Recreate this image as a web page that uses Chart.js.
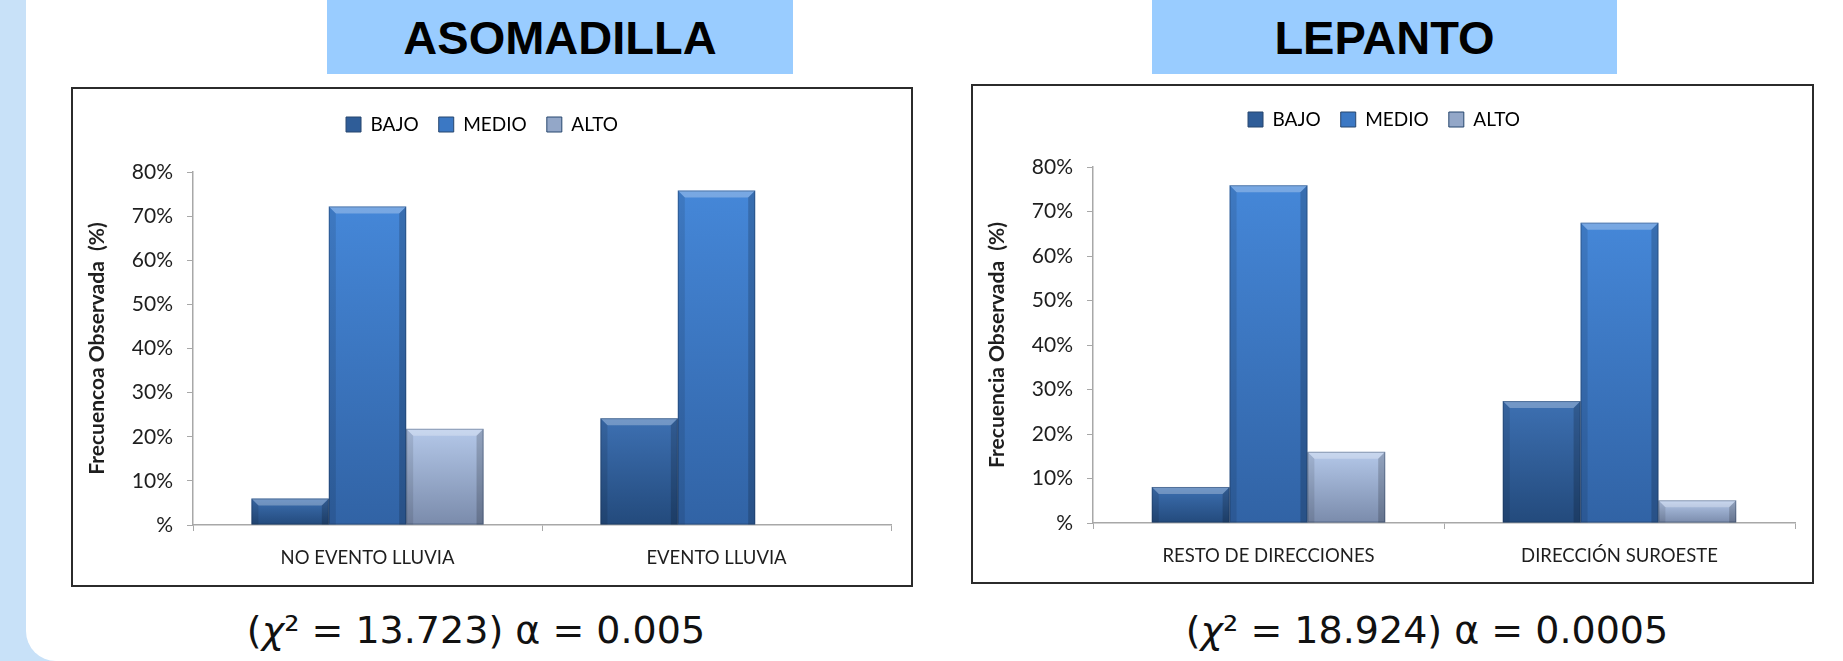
<!DOCTYPE html>
<html>
<head>
<meta charset="utf-8">
<script src="https://cdn.jsdelivr.net/npm/chart.js@4"></script>
<style>
  html, body { margin: 0; padding: 0; }
  body { width: 1843px; height: 661px; background: #c8e1f8; position: relative; overflow: hidden; }
  #panel { position: absolute; left: 26px; top: -40px; width: 1900px; height: 701px; background: #fff; border-bottom-left-radius: 30px; }
  .title { position: absolute; top: 0; height: 74px; background: #99ccff; font: bold 47px "Liberation Sans", Arial, sans-serif; color: #000; text-align: center; line-height: 76px; }
  .frame { position: absolute; border: 2px solid #2b2b2b; background: #fff; }
  .stat { position: absolute; width: 640px; text-align: center; font: 38px "DejaVu Sans", sans-serif; color: #111; }
  .stat i { font-style: italic; }
</style>
</head>
<body>
<div id="panel"></div>
<div class="title" style="left:327px;width:466px;">ASOMADILLA</div>
<div class="title" style="left:1152px;width:465px;">LEPANTO</div>

<div class="frame" style="left:71px;top:87px;width:838px;height:496px;"><canvas id="chartA"></canvas></div>
<div class="frame" style="left:971px;top:84px;width:839px;height:496px;"><canvas id="chartB"></canvas></div>

<div class="stat" style="left:156px;top:608px;">(<i>χ</i>² = 13.723) α = 0.005</div>
<div class="stat" style="left:1107px;top:608px;">(<i>χ</i>² = 18.924) α = 0.0005</div>

<script>
// series names
const levels = ['BAJO', 'MEDIO', 'ALTO'];

// ASOMADILLA (%)
const asomadillaCategories = ['NO EVENTO LLUVIA', 'EVENTO LLUVIA'];
const asomadillaBajo = [6.0, 24.2];
const asomadillaMedio = [72.2, 75.8];
const asomadillaAlto = [21.8, 0];

// LEPANTO (%)
const lepantoCategories = ['RESTO DE DIRECCIONES', 'DIRECCIÓN SUROESTE'];
const lepantoBajo = [8.1, 27.4];
const lepantoMedio = [75.9, 67.5];
const lepantoAlto = [16.0, 5.1];

// y axis
const yMin = 0;
const yMax = 80;
const yStep = 10;

// gradient colours per level: [top, bottom, legend]
const levelColors = [
    ['#3d70b2', '#234a7c', '#2f5d98'],
    ['#4587d8', '#3163a5', '#3b78c4'],
    ['#b4c8e9', '#7a8bab', '#93a7c8']
];

const textColor = '#1e1e1e';
const axisColor = '#a8a8a8';
const fontFamily = 'Lato, "Open Sans", sans-serif';

function barFill(top, bottom) {
    return function (ctx) {
        const chart = ctx.chart;
        const y = chart.scales.y;
        if (!y || ctx.raw === undefined) return top;
        const y0 = y.getPixelForValue(0);
        const y1 = y.getPixelForValue(ctx.raw);
        if (!isFinite(y0) || !isFinite(y1) || y0 === y1) return top;
        const g = chart.ctx.createLinearGradient(0, y1, 0, y0);
        g.addColorStop(0, top);
        g.addColorStop(1, bottom);
        return g;
    };
}

// excel-like bevel on top of each bar
const bevelPlugin = {
    id: 'bevel',
    afterDatasetsDraw(chart) {
        const ctx = chart.ctx;
        chart.data.datasets.forEach((ds, i) => {
            chart.getDatasetMeta(i).data.forEach(el => {
                const h = el.base - el.y;
                if (h < 1) return;
                const x0 = el.x - el.width / 2, x1 = el.x + el.width / 2;
                const b = Math.min(7, h / 2);
                ctx.save();
                ctx.fillStyle = 'rgba(255,255,255,0.28)';
                ctx.beginPath();
                ctx.moveTo(x0, el.y); ctx.lineTo(x1, el.y);
                ctx.lineTo(x1 - b, el.y + b); ctx.lineTo(x0 + b, el.y + b);
                ctx.closePath(); ctx.fill();
                ctx.fillStyle = 'rgba(0,0,0,0.10)';
                ctx.beginPath();
                ctx.moveTo(x0, el.y); ctx.lineTo(x0 + b, el.y + b);
                ctx.lineTo(x0 + b, el.base); ctx.lineTo(x0, el.base);
                ctx.closePath(); ctx.fill();
                ctx.fillStyle = 'rgba(0,0,0,0.18)';
                ctx.beginPath();
                ctx.moveTo(x1, el.y); ctx.lineTo(x1 - b, el.y + b);
                ctx.lineTo(x1 - b, el.base); ctx.lineTo(x1, el.base);
                ctx.closePath(); ctx.fill();
                ctx.strokeStyle = 'rgba(20,40,70,0.35)';
                ctx.lineWidth = 1;
                ctx.strokeRect(x0 + 0.5, el.y + 0.5, el.width - 1, h - 1);
                ctx.restore();
            });
        });
    }
};

// extra gap under the legend
const legendGapPlugin = {
    id: 'legendGap',
    beforeInit(chart) {
        const fit = chart.legend.fit;
        chart.legend.fit = function () {
            fit.bind(chart.legend)();
            this.height += chart.options.plugins.legendGap.gap;
        };
    }
};

function makeChart(id, categories, bajo, medio, alto, yTitle, lay) {
    const series = [bajo, medio, alto];
    return new Chart(document.getElementById(id), {
        type: 'bar',
        data: {
            labels: categories,
            datasets: levels.map((name, i) => ({
                label: name,
                data: series[i],
                backgroundColor: barFill(levelColors[i][0], levelColors[i][1]),
                borderWidth: 0,
                categoryPercentage: 0.665,
                barPercentage: 1
            }))
        },
        options: {
            responsive: true,
            maintainAspectRatio: false,
            animation: false,
            layout: { padding: { top: lay.top, right: lay.right, bottom: 0, left: 0 } },
            plugins: {
                tooltip: { enabled: false },
                legendGap: { gap: lay.gap },
                legend: {
                    position: 'top',
                    labels: {
                        boxWidth: 15,
                        boxHeight: 15,
                        padding: 20,
                        color: textColor,
                        font: { family: fontFamily, size: 19 },
                        generateLabels: () => levels.map((name, i) => ({
                            text: name,
                            fillStyle: levelColors[i][2],
                            strokeStyle: '#27466e',
                            lineWidth: 1,
                            datasetIndex: i
                        }))
                    }
                }
            },
            scales: {
                x: {
                    offset: true,
                    grid: { display: true, drawOnChartArea: false, drawTicks: true, tickLength: 6, offset: true, color: axisColor },
                    border: { color: axisColor, width: 1.5 },
                    ticks: { color: textColor, font: { family: fontFamily, size: 18.5 }, padding: 16, maxRotation: 0 },
                    afterFit: s => { s.height = lay.xh; }
                },
                y: {
                    min: yMin,
                    max: yMax,
                    grid: { drawOnChartArea: false, tickLength: 6, color: axisColor },
                    border: { color: axisColor, width: 1.5 },
                    ticks: {
                        stepSize: yStep,
                        color: textColor,
                        padding: 14,
                        font: { family: fontFamily, size: 21 },
                        callback: v => (v === 0 ? '%' : v + '%')
                    },
                    title: {
                        display: true,
                        text: yTitle,
                        color: textColor,
                        padding: { top: 12, bottom: 0 },
                        font: { family: fontFamily, size: 21, weight: 'bold' }
                    },
                    afterFit: s => { s.width = 120; }
                }
            }
        },
        plugins: [bevelPlugin, legendGapPlugin]
    });
}

makeChart('chartA', asomadillaCategories, asomadillaBajo, asomadillaMedio, asomadillaAlto,
    'Frecuencoa Observada  (%)', { top: 6, right: 20, gap: 28, xh: 60 });
makeChart('chartB', lepantoCategories, lepantoBajo, lepantoMedio, lepantoAlto,
    'Frecuencia Observada  (%)', { top: 4, right: 17, gap: 28, xh: 59 });
</script>
</body>
</html>
